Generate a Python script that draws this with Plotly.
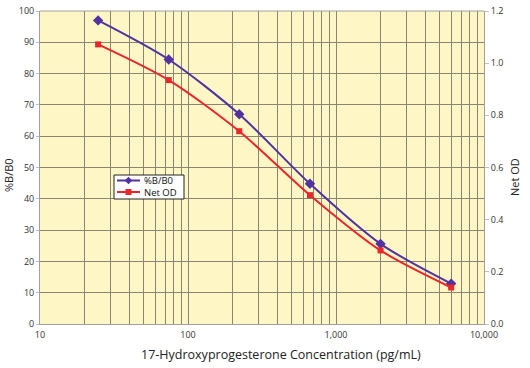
import plotly.graph_objects as go

conc = [24.7, 74.1, 222, 667, 2000, 6000]
pct_b_b0 = [97.0, 84.5, 67.0, 44.8, 25.6, 12.9]
net_od = [1.072, 0.935, 0.739, 0.494, 0.282, 0.140]

x_ticks = [10, 100, 1000, 10000]
x_tick_labels = ["10", "100", "1,000", "10,000"]
series_names = ["%B/B0", "Net OD"]

purple = "#5032A0"
red = "#E8262B"
grid = "#8a8472"
axis_col = "#a0a0a0"
font = "Open Sans"

W, H = 530, 368
PX0, PX1, PY0, PY1 = 40, 484, 11, 324
L, R, T, B = PX0, W - PX1, PY0, H - PY1
pw, ph = PX1 - PX0, PY1 - PY0


def px_x(p):
    return (p - PX0) / pw


def px_y(p):
    return (PY1 - p) / ph


fig = go.Figure()
fig.add_trace(go.Scatter(
    x=conc, y=pct_b_b0, name=series_names[0], mode="lines+markers",
    line=dict(color=purple, width=2, shape="spline", smoothing=0.8),
    marker=dict(symbol="diamond", size=8, color=purple),
))
fig.add_trace(go.Scatter(
    x=conc, y=net_od, name=series_names[1], mode="lines+markers", yaxis="y2",
    line=dict(color=red, width=2, shape="spline", smoothing=0.8),
    marker=dict(symbol="square", size=6, color=red),
))

fig.update_layout(
    width=W, height=H,
    margin=dict(l=L, r=R, t=T, b=B, autoexpand=False),
    paper_bgcolor="white",
    plot_bgcolor="#FFF6C6",
    font=dict(family=font, size=9, color="#333333"),
    showlegend=False,
    xaxis=dict(
        type="log", range=[1, 4], automargin=False,
        tickvals=x_ticks, ticktext=x_tick_labels,
        showgrid=True, gridcolor=grid, gridwidth=1,
        minor=dict(showgrid=True, gridcolor=grid, gridwidth=1, dtick="D1"),
        showline=True, linecolor=axis_col, linewidth=1,
        ticks="outside", ticklen=2, tickcolor="rgba(0,0,0,0)",
        zeroline=False, ticklabeloverflow="allow",
        tickfont=dict(size=9, color="#333333"),
    ),
    yaxis=dict(
        range=[0, 100], dtick=10, automargin=False,
        showgrid=True, gridcolor=grid, gridwidth=1,
        showline=True, linecolor=axis_col, linewidth=1,
        ticks="outside", ticklen=3, tickcolor="#c0c0c0",
        zeroline=False, ticklabeloverflow="allow",
        tickfont=dict(size=9, color="#333333"),
    ),
    yaxis2=dict(
        range=[0, 1.2], dtick=0.2, tickformat=".1f", automargin=False,
        overlaying="y", side="right",
        showgrid=False,
        showline=True, linecolor=axis_col, linewidth=1,
        ticks="outside", ticklen=4, tickcolor="#c0c0c0",
        zeroline=False, ticklabeloverflow="allow",
        tickfont=dict(size=9, color="#333333"),
    ),
)

# top frame line
fig.add_shape(type="line", xref="paper", yref="paper", x0=0, x1=1, y0=1, y1=1,
              line=dict(color=axis_col, width=1))

# axis titles
fig.add_annotation(text="17-Hydroxyprogesterone Concentration (pg/mL)",
                   xref="paper", yref="paper", x=px_x(281), y=px_y(354),
                   showarrow=False, font=dict(size=12.5, color="#222222"),
                   xanchor="center", yanchor="middle")
fig.add_annotation(text="%B/B0", xref="paper", yref="paper",
                   x=px_x(9), y=px_y(175), textangle=-90, showarrow=False,
                   font=dict(size=11, color="#222222"),
                   xanchor="center", yanchor="middle")
fig.add_annotation(text="Net OD", xref="paper", yref="paper",
                   x=px_x(514), y=px_y(177), textangle=-90, showarrow=False,
                   font=dict(size=11, color="#222222"),
                   xanchor="center", yanchor="middle")

# custom compact legend
fig.add_shape(type="rect", xref="paper", yref="paper",
              x0=px_x(114), x1=px_x(184), y0=px_y(199), y1=px_y(175),
              fillcolor="white", line=dict(color="#222222", width=1), layer="above")
rows = [(180.5, purple, "diamond"), (192, red, "square")]
for (py, col, sym), name in zip(rows, series_names):
    fig.add_shape(type="line", xref="paper", yref="paper",
                  x0=px_x(117), x1=px_x(140), y0=px_y(py), y1=px_y(py),
                  line=dict(color=col, width=2), layer="above")
    cx = 128.5
    if sym == "diamond":
        d = 3.8
        path = (f"M {px_x(cx - d)} {px_y(py)} L {px_x(cx)} {px_y(py - d)} "
                f"L {px_x(cx + d)} {px_y(py)} L {px_x(cx)} {px_y(py + d)} Z")
    else:
        d = 3
        path = (f"M {px_x(cx - d)} {px_y(py - d)} L {px_x(cx + d)} {px_y(py - d)} "
                f"L {px_x(cx + d)} {px_y(py + d)} L {px_x(cx - d)} {px_y(py + d)} Z")
    fig.add_shape(type="path", xref="paper", yref="paper", path=path,
                  fillcolor=col, line=dict(color=col, width=0), layer="above")
    fig.add_annotation(text=name, xref="paper", yref="paper",
                       x=px_x(141.5), y=px_y(py), showarrow=False,
                       xanchor="left", yanchor="middle",
                       font=dict(size=9.5, color="#111111"))

fig.write_html("out.html",
               config={"displayModeBar": False},
               post_script="document.body.style.margin='0';document.body.style.overflow='hidden';")
